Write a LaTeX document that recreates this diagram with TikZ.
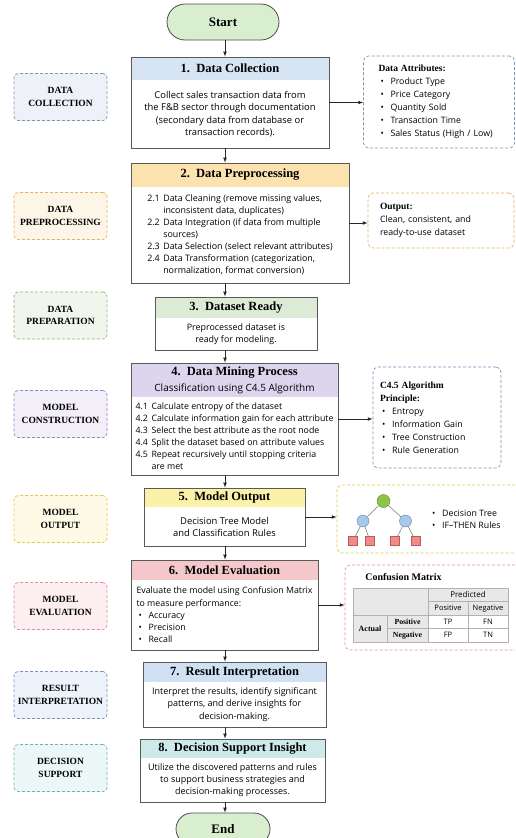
\documentclass[tikz,border=0pt]{standalone}
\usepackage{fontspec}
\setmainfont{Liberation Serif}
\setsansfont{Open Sans}
\usepackage{xcolor}
\usepackage{tikz}
\usetikzlibrary{shapes,arrows,positioning,fit}

\definecolor{pillgreen}{HTML}{D9EDCF}
\definecolor{hdblue}{HTML}{D6E4F3}
\definecolor{hdorange}{HTML}{FBE2AF}
\definecolor{hdgreen}{HTML}{DCEBD5}
\definecolor{hdpurple}{HTML}{DDD5EE}
\definecolor{hdyellow}{HTML}{FBF1A8}
\definecolor{hdred}{HTML}{F4C7CA}
\definecolor{hdsky}{HTML}{D0E1F3}
\definecolor{hdteal}{HTML}{CDEAEA}
\definecolor{ltblue}{HTML}{EEF2F8}
\definecolor{edblue}{HTML}{7F95B8}
\definecolor{ltorange}{HTML}{FDF5E8}
\definecolor{edorange}{HTML}{E5B45A}
\definecolor{ltgreen}{HTML}{F0F6EC}
\definecolor{edgreen}{HTML}{8DB57F}
\definecolor{ltpurple}{HTML}{F3EFF8}
\definecolor{edpurple}{HTML}{9A80C4}
\definecolor{ltyellow}{HTML}{FDFAE6}
\definecolor{edyellow}{HTML}{E5C84E}
\definecolor{ltred}{HTML}{FDEFF1}
\definecolor{edred}{HTML}{E58F9A}
\definecolor{ltsky}{HTML}{EDF3FA}
\definecolor{edsky}{HTML}{7A93BE}
\definecolor{ltteal}{HTML}{ECF7F7}
\definecolor{edteal}{HTML}{6FB3B3}
\definecolor{treegreen}{HTML}{8DC34A}
\definecolor{treegreenedge}{HTML}{5E8E2E}
\definecolor{treeblue}{HTML}{A7C8EA}
\definecolor{treeblueedge}{HTML}{5D86B8}
\definecolor{treered}{HTML}{EE8B8B}
\definecolor{treerededge}{HTML}{C05858}
\definecolor{cellgray}{HTML}{E8E8E8}

\newcommand{\stepno}[1]{\makebox[16pt][l]{#1}}
\newcommand{\indentbox}{\makebox[16pt]{}}
\newcommand{\bulletmark}{\makebox[12pt][l]{\hspace{2pt}\textbullet}}
\newcommand{\notetitle}[1]{{\rmfamily\bfseries\fontsize{9.5}{12}\selectfont #1}}

\begin{document}
\begin{tikzpicture}[x=1pt,y=-1pt,>=latex]
    \tikzstyle{pill}=[rounded rectangle, draw=black!70, line width=0.8pt, fill=pillgreen, minimum width=112pt, minimum height=36pt, inner sep=0pt, font=\rmfamily\bfseries\fontsize{13}{15}\selectfont]
    \tikzstyle{head}=[anchor=north, inner sep=0pt, outer sep=0pt, align=center, font=\rmfamily\bfseries\fontsize{12.5}{16}\selectfont]
    \tikzstyle{body}=[inner sep=0pt, outer sep=0pt, align=center, font=\sffamily\fontsize{9}{12.2}\selectfont]
    \tikzstyle{frame}=[draw=black!65, line width=0.8pt, inner sep=0pt]
    \tikzstyle{phase}=[densely dashed, line width=0.7pt, rounded corners=4pt, minimum width=93pt, minimum height=47pt, inner sep=1pt, align=center, font=\rmfamily\bfseries\fontsize{9.5}{12.5}\selectfont]
    \tikzstyle{note}=[densely dashed, line width=0.7pt, rounded corners=5pt, fill=white, align=left, inner ysep=0pt, font=\sffamily\fontsize{8.8}{13}\selectfont]
    \tikzstyle{arrow}=[->, draw=black!85, line width=0.7pt]
    \tikzstyle{tree root}=[circle, draw=treegreenedge, fill=treegreen, minimum size=13pt, inner sep=0pt]
    \tikzstyle{tree inner}=[circle, draw=treeblueedge, fill=treeblue, minimum size=12pt, inner sep=0pt]
    \tikzstyle{leaf}=[rectangle, draw=treerededge, fill=treered, minimum size=9pt, inner sep=0pt]
    \tikzstyle{cell}=[draw=black!30, line width=0.4pt, inner sep=0pt, font=\sffamily\fontsize{7.5}{8}\selectfont]

    \useasboundingbox (0,0) rectangle (515,838);
    \clip (0,0) rectangle (515,838);
    \coordinate (axis) at (225,0);

    % Start and end
    \node[pill] (start) at (223,22) {Start};
    \node[pill, minimum width=94pt, minimum height=32pt] (stop) at (223,829) {End};

    % Phase labels on the left
    \foreach \name/\y/\tint/\edge/\txt in {
        1/97/ltblue/edblue/{DATA\\COLLECTION},
        2/216/ltorange/edorange/{DATA\\PREPROCESSING},
        3/315.5/ltgreen/edgreen/{DATA\\PREPARATION},
        4/414/ltpurple/edpurple/{MODEL\\CONSTRUCTION},
        5/519/ltyellow/edyellow/{MODEL\\OUTPUT},
        6/606/ltred/edred/{MODEL\\EVALUATION},
        7/695/ltsky/edsky/{RESULT\\INTERPRETATION},
        8/768/ltteal/edteal/{DECISION\\SUPPORT}}
        \node[phase, fill=\tint, draw=\edge] (L-\name) at (60.5,\y) {\txt};

    % Step 1
    \node[head, fill=hdblue, minimum width=198pt, minimum height=23pt] (H-1) at (230,57) {1.\ \ Data Collection};
    \node[body, font=\sffamily\fontsize{9.4}{12.3}\selectfont, minimum width=198pt, minimum height=68pt, below=0pt of H-1] (B-1)
        {Collect sales transaction data from\\the F\&B sector through documentation\\(secondary data from database or\\transaction records).};
    \node[frame, fit=(H-1)(B-1)] (S-1) {};

    % Step 2
    \node[head, fill=hdorange, minimum width=218pt, minimum height=24pt] (H-2) at (240,163) {2.\ \ Data Preprocessing};
    \node[body, align=left, font=\sffamily\fontsize{8.9}{12}\selectfont, minimum width=218pt, minimum height=96pt, below=0pt of H-2] (B-2)
        {\stepno{2.1}Data Cleaning (remove missing values,\\
         \indentbox inconsistent data, duplicates)\\
         \stepno{2.2}Data Integration (if data from multiple\\
         \indentbox sources)\\
         \stepno{2.3}Data Selection (select relevant attributes)\\
         \stepno{2.4}Data Transformation (categorization,\\
         \indentbox normalization, format conversion)};
    \node[frame, fit=(H-2)(B-2)] (S-2) {};

    % Step 3
    \node[head, fill=hdgreen, minimum width=162pt, minimum height=21pt] (H-3) at (236,297) {3.\ \ Dataset Ready};
    \node[body, font=\sffamily\fontsize{8.9}{12}\selectfont, minimum width=162pt, minimum height=32pt, below=0pt of H-3] (B-3)
        {Preprocessed dataset is\\ready for modeling.};
    \node[frame, fit=(H-3)(B-3)] (S-3) {};

    % Step 4
    \node[head, fill=hdpurple, minimum width=207pt, minimum height=34pt] (H-4) at (234.5,363)
        {4.\ \ Data Mining Process\\{\sffamily\mdseries\fontsize{10}{12}\selectfont Classification using C4.5 Algorithm}};
    \node[body, align=left, font=\sffamily\fontsize{8.8}{12}\selectfont, minimum width=207pt, minimum height=78pt, below=0pt of H-4] (B-4)
        {\stepno{4.1}Calculate entropy of the dataset\\
         \stepno{4.2}Calculate information gain for each attribute\\
         \stepno{4.3}Select the best attribute as the root node\\
         \stepno{4.4}Split the dataset based on attribute values\\
         \stepno{4.5}Repeat recursively until stopping criteria\\
         \indentbox are met};
    \node[frame, fit=(H-4)(B-4)] (S-4) {};

    % Step 5
    \node[head, fill=hdyellow, minimum width=161pt, minimum height=19pt] (H-5) at (224.5,488) {5.\ \ Model Output};
    \node[body, font=\sffamily\fontsize{9.4}{12}\selectfont, minimum width=161pt, minimum height=39pt, below=0pt of H-5] (B-5)
        {Decision Tree Model\\and Classification Rules};
    \node[frame, fit=(H-5)(B-5)] (S-5) {};

    % Step 6
    \node[head, fill=hdred, minimum width=187pt, minimum height=20pt] (H-6) at (224.5,560) {6.\ \ Model Evaluation};
    \node[body, align=left, font=\sffamily\fontsize{8.8}{12.2}\selectfont, minimum width=187pt, minimum height=70pt, below=0pt of H-6] (B-6)
        {Evaluate the model using Confusion Matrix\\to measure performance:\\
         \bulletmark Accuracy\\\bulletmark Precision\\\bulletmark Recall};
    \node[frame, fit=(H-6)(B-6)] (S-6) {};

    % Step 7
    \node[head, fill=hdsky, minimum width=183pt, minimum height=20pt] (H-7) at (234.5,662) {7.\ \ Result Interpretation};
    \node[body, minimum width=183pt, minimum height=45pt, below=0pt of H-7] (B-7)
        {Interpret the results, identify significant\\patterns, and derive insights for\\decision-making.};
    \node[frame, fit=(H-7)(B-7)] (S-7) {};

    % Step 8
    \node[head, fill=hdteal, minimum width=185pt, minimum height=19pt] (H-8) at (232.5,739) {8.\ \ Decision Support Insight};
    \node[body, minimum width=185pt, minimum height=44pt, below=0pt of H-8] (B-8)
        {Utilize the discovered patterns and rules\\to support business strategies and\\decision-making processes.};
    \node[frame, fit=(H-8)(B-8)] (S-8) {};

    % Side notes
    \node[note, draw=edblue, text width=121pt, inner xsep=15pt, minimum height=92pt] (R-1) at (439,102)
        {\notetitle{Data Attributes:}\\\bulletmark Product Type\\\bulletmark Price Category\\\bulletmark Quantity Sold\\
         \bulletmark Transaction Time\\\bulletmark Sales Status (High / Low)};
    \node[note, draw=edorange, text width=122pt, inner xsep=12pt, minimum height=55pt] (R-2) at (441,220.5)
        {\notetitle{Output:}\\Clean, consistent, and\\ready-to-use dataset};
    \node[note, draw=edpurple, text width=114pt, inner xsep=7pt, minimum height=101pt] (R-4) at (437,417.5)
        {\notetitle{C4.5 Algorithm}\\\notetitle{Principle:}\\\bulletmark Entropy\\\bulletmark Information Gain\\
         \bulletmark Tree Construction\\\bulletmark Rule Generation};
    \node[note, draw=edyellow, minimum width=188pt, minimum height=68pt] (R-5) at (431,519) {};
    \node[note, draw=edred, minimum width=180pt, minimum height=85pt] (R-6) at (435,607.5) {};

    % Decision tree
    \node[tree root] (T-0) at (383.5,501) {};
    \node[tree inner] (T-1) at (363,521) {};
    \node[tree inner] (T-2) at (405.5,521) {};
    \foreach \name/\x in {1/353,2/370,3/395,4/415.5}
        \node[leaf] (Q-\name) at (\x,541) {};
    \draw[black!55, line width=0.5pt] (T-0) edge (T-1) edge (T-2)
        (T-1) edge (Q-1) edge (Q-2) (T-2) edge (Q-3) edge (Q-4);
    \node[font=\sffamily\fontsize{8.8}{12}\selectfont, align=left, anchor=west, inner sep=0pt] (K-5) at (430,519)
        {\bulletmark Decision Tree\\\bulletmark IF–THEN Rules};

    % Confusion matrix
    \node[font=\rmfamily\bfseries\fontsize{10}{12}\selectfont] (M-0) at (403.5,577) {Confusion Matrix};
    \node[cell, fill=cellgray, minimum width=75pt, minimum height=27pt] (M-1) at (390.5,601.5) {};
    \node[cell, fill=cellgray, minimum width=80pt, minimum height=13.5pt, font=\sffamily\fontsize{8}{9}\selectfont] (M-2) at (468,594.75) {Predicted};
    \foreach \name/\x/\txt in {3/448/Positive, 4/488/Negative}
        \node[cell, fill=cellgray, minimum width=40pt, minimum height=13.5pt] (M-\name) at (\x,608.25) {\txt};
    \node[cell, fill=cellgray, minimum width=34pt, minimum height=27pt, font=\rmfamily\bfseries\fontsize{8}{9}\selectfont] (M-5) at (370,628.5) {Actual};
    \foreach \name/\y/\txt in {6/621.75/Positive, 7/635.25/Negative}
        \node[cell, fill=cellgray, minimum width=41pt, minimum height=13.5pt, font=\rmfamily\bfseries\fontsize{7.8}{8}\selectfont] (M-\name) at (407.5,\y) {\txt};
    \foreach \name/\x/\y/\txt in {8/448/621.75/TP, 9/488/621.75/FN, 10/448/635.25/FP, 11/488/635.25/TN}
        \node[cell, fill=white, minimum width=40pt, minimum height=13.5pt] (M-\name) at (\x,\y) {\txt};

    % Connect the steps
    \foreach \a/\b in {start/S-1, S-1/S-2, S-2/S-3, S-3/S-4, S-4/S-5, S-5/S-6, S-6/S-7, S-7/S-8, S-8/stop}
        \draw[arrow] (\a.south -| axis) -- (\b.north -| axis);
    \foreach \k in {1,2,4,5,6}
        \draw[arrow] (S-\k.east) -- (S-\k.east -| R-\k.west);

\end{tikzpicture}
\end{document}
